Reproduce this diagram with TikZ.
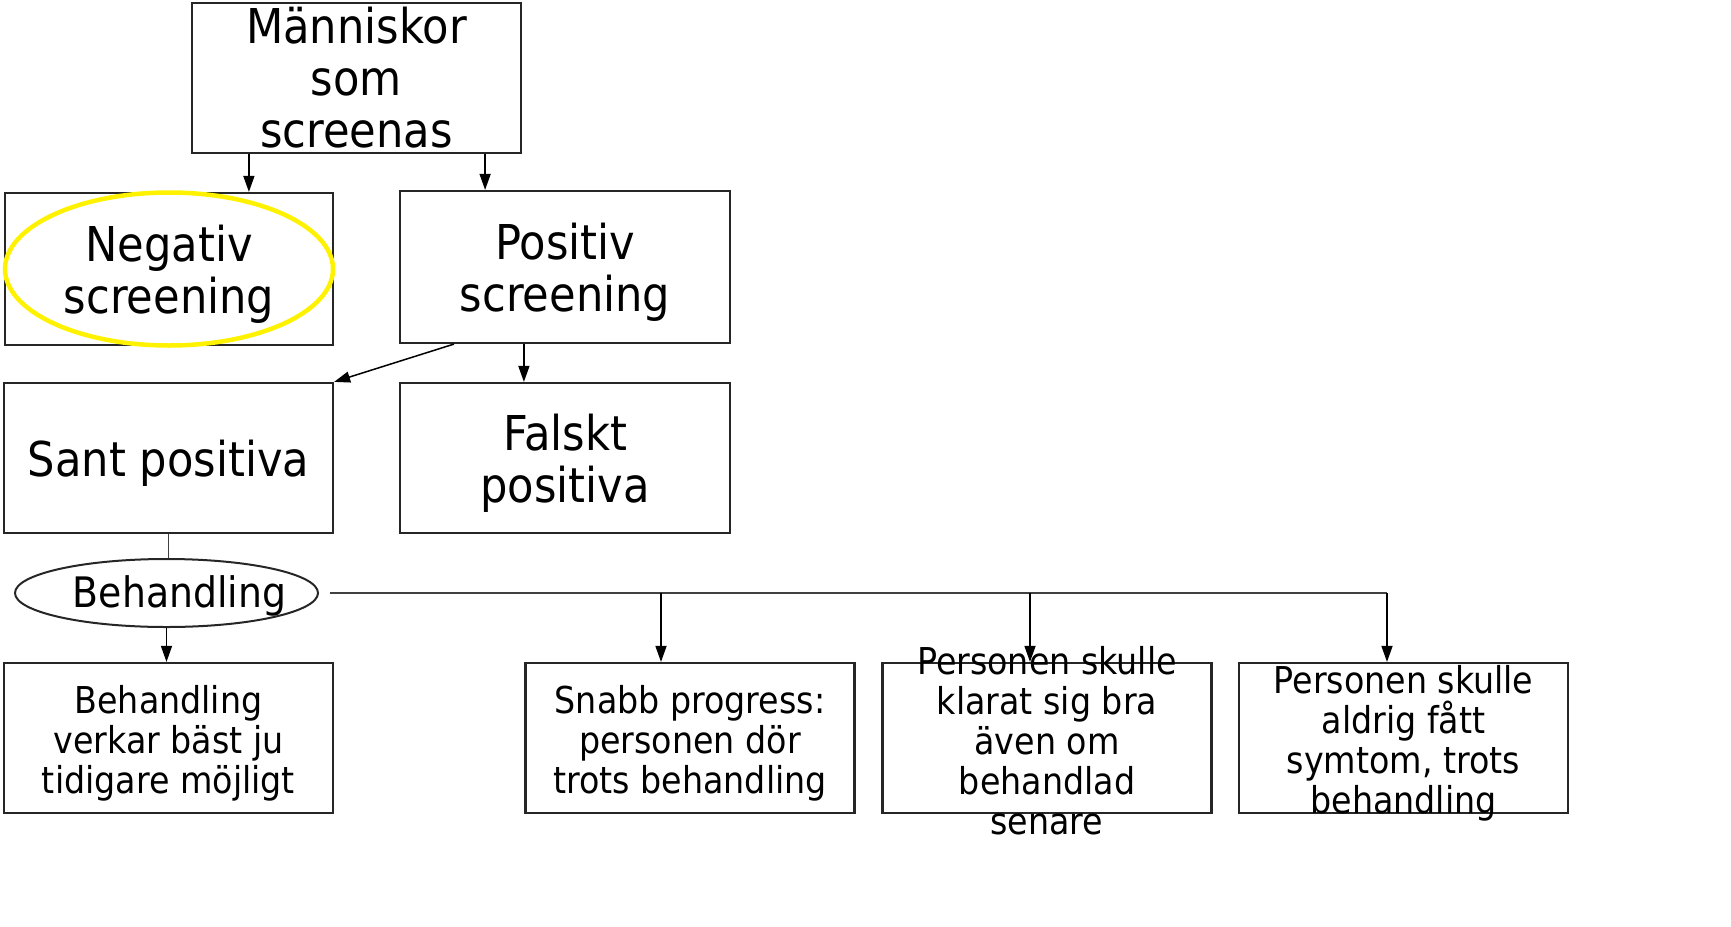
\documentclass[tikz,border=0pt]{standalone}
\usepackage{fontspec}
\setmainfont{DejaVu Sans}[FakeStretch=0.9]
\usetikzlibrary{shapes.geometric,arrows.meta}

\tikzset{
  box/.style={draw=black!85, line width=2.2pt, minimum width=329pt, minimum height=150pt, inner sep=0pt},
  big/.style={align=center, inner sep=0pt, yshift=-5pt, font=\fontsize{48}{52}\selectfont},
  small/.style={align=center, inner sep=0pt, yshift=-5pt, font=\fontsize{37}{40}\selectfont},
  arr/.style={-{Triangle[length=16pt,width=11pt]}, line width=1.5pt},
  conn/.style={line width=1.5pt, draw=black!75}
}

\begin{document}
\begin{tikzpicture}[x=1pt,y=-1pt]
\useasboundingbox (0,0) rectangle (1731,926);

% Screening at the top
\node[box] (screen) at (356.5,78) {};
\node[big, yshift=5pt] (screent) at (screen) {Människor\\som\\screenas};
\node[box, minimum width=328pt, minimum height=152pt] (neg) at (169,269) {};
\node[big] (negt) at (neg) {Negativ\\screening};
\node[box, minimum width=330pt, minimum height=152pt] (pos) at (565,267) {};
\node[big] (post) at (pos) {Positiv\\screening};
\node[ellipse, draw=yellow, line width=4.5pt, minimum width=328pt, minimum height=153pt, inner sep=0pt] (mark) at (neg) {};

% Positive results
\node[box] (sant) at (168.5,458) {};
\node[big] (santt) at (sant) {Sant positiva};
\node[box, minimum width=330pt] (falsk) at (565,458) {};
\node[big] (falskt) at (falsk) {Falskt\\positiva};
\node[ellipse, draw=black!85, line width=2pt, minimum width=303pt, minimum height=68pt, inner sep=0pt] (beh) at (166.5,593) {};
\node[inner sep=0pt, xshift=13pt, yshift=-3pt, font=\fontsize{42}{46}\selectfont] (beht) at (beh) {Behandling};

% Outcomes
\foreach \n/\x in {res1/168.5, res2/690, res3/1047, res4/1403.5}
  \node[box] (\n) at (\x,738) {};
\node[small] (res1t) at (res1) {Behandling\\verkar bäst ju\\tidigare möjligt};
\node[small] (res2t) at (res2) {Snabb progress:\\personen dör\\trots behandling};
\node[small, yshift=2pt] (res3t) at (res3) {Personen skulle\\klarat sig bra\\även om\\behandlad\\senare};
\node[small] (res4t) at (res4) {Personen skulle\\aldrig fått\\symtom, trots\\behandling};

% Connectors
\draw[arr] ([xshift=58pt]screen.south west) -- ([xshift=58pt]screen.south west |- neg.north);
\draw[arr] ([xshift=-37pt]screen.south east) -- ([xshift=-37pt]screen.south east |- pos.north);
\draw[arr] ([xshift=55pt]pos.south west) -- (sant.north east);
\draw[arr] ([xshift=125pt]pos.south west) -- ([xshift=125pt]pos.south west |- falsk.north);
\draw[conn] (sant.south) -- (sant.south |- beh.north);
\draw[arr] (beh.south) -- (beh.south |- res1.north);
\coordinate (split) at (330,593);
\coordinate (corner) at (1387,593);
\draw[conn] (split) -- (corner);
\foreach \n/\x in {res2/661, res3/1030}
  \draw[arr] (\x,593) -- (\n.north -| \x,593);
\draw[arr] (corner) -- (corner |- res4.north);
\end{tikzpicture}
\end{document}
